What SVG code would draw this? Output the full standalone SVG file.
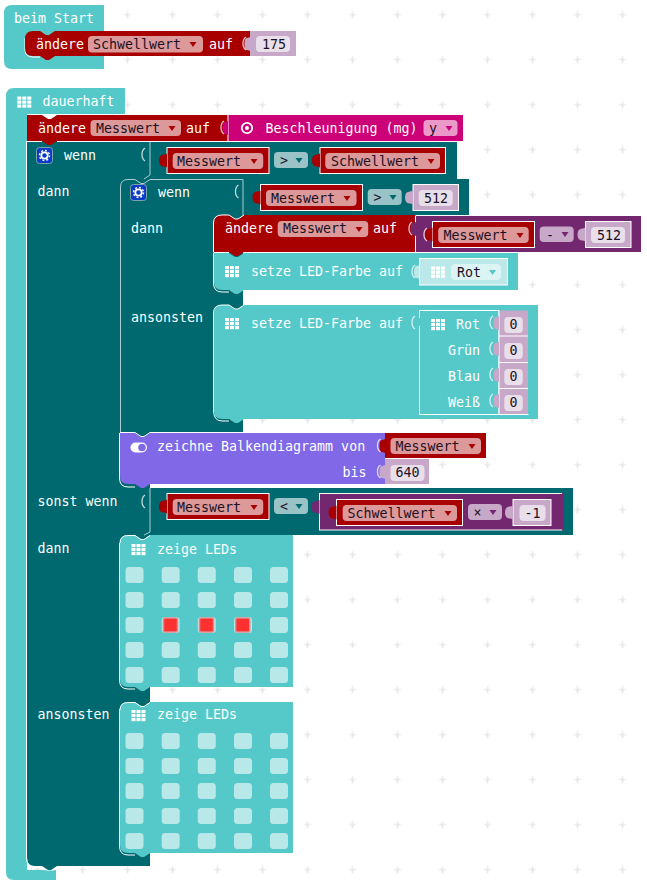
<svg xmlns="http://www.w3.org/2000/svg" width="647" height="886" viewBox="0 0 647 886">
<style>
text{font-family:"DejaVu Sans Mono","Liberation Mono",monospace;font-size:13.3px;fill:#fff}
text.d{fill:#1c1024}
.teal{fill:#55c9c9}.dark{fill:#006970}.red{fill:#a80000}.pink{fill:#cc0077}.pur{fill:#72276f}.vio{fill:#8068e6}.lav{fill:#c8a8c8}
.rp{fill:#dd9999}.vp{fill:#e9dfeb}.op{fill:#99c3c6}.pp{fill:#c8a8c8}
.edge{fill:none;stroke:#fff;stroke-width:1}.soft{fill:none;stroke:#a9cdd0;stroke-width:1}
.led{fill:#b8e8e8}.on{fill:#ff3030;stroke:#e08a8a;stroke-width:1.5}
.sock{fill:none;stroke:#fff;stroke-width:1.3;opacity:.75}
.ic{fill:#fff}
</style>
<defs>
<pattern id="grid" x="82.500" y="14.500" width="45" height="45" patternUnits="userSpaceOnUse">
<path d="M0 0H3.500M0 -3.500V3.500M41.500 0H45M45 -3.500V3.500M0 45H3.500M0 41.500V45M41.500 45H45M45 41.500V45M0 0V3.500M45 0V3.500" stroke="#e0e0e0" fill="none"/>
</pattern>
<path id="tab" d="M0 0q-2 1-3 1q-5 0-5 6q0 6 5 6q1 0 3 1z"/>
<path id="stub" d="M0 0q-2 1-3 1q-2.500 0-2.500 6q0 6 2.500 6q1 0 3 1z"/>
<path id="cres" d="M0 0q-3 2-3 6.500t3 6.500"/>
<path id="arrow" d="M-3.500 -2H3.500L0 3z"/>
<g id="grid5"><rect x="0" y="0" width="4" height="3.200"/><rect x="5" y="0" width="4" height="3.200"/><rect x="10" y="0" width="4" height="3.200"/><rect x="0" y="4" width="4" height="3.200"/><rect x="5" y="4" width="4" height="3.200"/><rect x="10" y="4" width="4" height="3.200"/><rect x="0" y="8" width="4" height="3.200"/><rect x="5" y="8" width="4" height="3.200"/><rect x="10" y="8" width="4" height="3.200"/></g>
<g id="gear"><rect x="0.500" y="0.500" width="16" height="16" rx="3" fill="#0a3cc8" stroke="#7fa5aa"/><circle cx="8.500" cy="8.500" r="3.200" fill="none" stroke="#fff" stroke-width="1.800"/><circle cx="8.500" cy="8.500" r="5" fill="none" stroke="#fff" stroke-width="1.500" stroke-dasharray="1.900 2"/></g>
<g id="ledrow"><rect class="led" x="125.500" width="18" height="16" rx="3.500"/><rect class="led" x="161.700" width="18" height="16" rx="3.500"/><rect class="led" x="197.800" width="18" height="16" rx="3.500"/><rect class="led" x="234" width="18" height="16" rx="3.500"/><rect class="led" x="270" width="18" height="16" rx="3.500"/></g>
</defs>
<rect width="647" height="886" fill="#fff"/>
<rect width="647" height="886" fill="url(#grid)"/>

<g id="connectors"></g>

<g id="beim-start">
<path class="teal" d="M12 5H104V69H12Q4 69 4 61V13Q4 5 12 5Z"/>
<text x="14" y="23">beim Start</text>
</g>
<g id="set-schwellwert">
<path class="edge" d="M25 38V50Q25 57 33 57H40"/>
<path class="red" d="M33 31H40l6 4h3l6-4H250V56H55l-6 4h-3l-6-4H33Q25 56 25 48V39Q25 31 33 31Z"/>
<text x="36" y="49">ändere</text>
<rect class="rp" x="88" y="36" width="115" height="16.500" rx="4"/>
<text class="d" x="93" y="49">Schwellwert</text>
<use href="#arrow" x="193" y="44" class="red"/>
<text x="209" y="49">auf</text>
</g>
<g id="val-175">
<rect class="lav" x="250" y="31" width="46" height="25"/>
<use href="#stub" x="250" y="37" class="lav"/><use href="#cres" x="246" y="37" class="sock"/>
<rect class="vp" x="256" y="36" width="34" height="16" rx="4"/>
<text class="d" x="262" y="49">175</text>
</g>

<g id="dauerhaft">
<path class="teal" d="M14 88H125V114H27V870H56V880H14Q6 880 6 872V96Q6 88 14 88Z"/>
<use href="#grid5" x="17.300" y="96.500" class="ic"/>
<text x="42.500" y="106">dauerhaft</text>
</g>

<g id="wenn-aussen">
<path class="dark" d="M27 141H457V179H150V488H573V535H150V866H35Q27 866 27 858Z"/>
<path class="edge" d="M26.500 141V858Q26.500 867 35 867H42l4 3h8"/>
<path class="dark" d="M42 866H57l-6 4h-3z"/>
<use href="#gear" x="36" y="147"/>
<text x="64" y="160">wenn</text>
<text x="37.500" y="196">dann</text>
<text x="37.500" y="506">sonst wenn</text>
<text x="37.500" y="553">dann</text>
<text x="37.500" y="719">ansonsten</text>
<use href="#cres" x="145" y="148" class="sock"/>
<path class="soft" d="M150 142V175l-6 4"/>
<use href="#cres" x="145" y="495" class="sock"/>
<path class="soft" d="M150 488V532l-6 3"/>
</g>

<g id="set-messwert">
<path class="red" d="M27 115H42l6 4h3l6-4H228V141H57l-6 4h-3l-6-4H27Z"/>
<path class="edge" d="M27 141.500H42M57 141.500H228M228 115V141.500"/>
<text x="38" y="133">ändere</text>
<rect class="rp" x="90.500" y="120" width="90.500" height="16" rx="4"/>
<text class="d" x="96" y="133">Messwert</text>
<use href="#arrow" x="172" y="128" class="red"/>
<text x="186" y="133">auf</text>
</g>
<g id="beschleunigung">
<rect class="pink" x="228.500" y="115" width="234.500" height="26"/>
<path class="edge" d="M228 141.500H457"/>
<use href="#stub" x="228" y="121" class="pink"/><use href="#cres" x="224" y="121" class="sock"/>
<circle cx="247" cy="128" r="5.200" fill="none" stroke="#fff" stroke-width="1.800"/><circle cx="247" cy="128" r="2" fill="#fff"/>
<text x="265.500" y="133">Beschleunigung (mg)</text>
<rect x="423.500" y="120" width="34" height="16" rx="4" fill="#eb99c9"/>
<text class="d" x="429" y="133">y</text>
<use href="#arrow" x="449" y="128" class="pink"/>
</g>

<g id="cond-1-messwert">
<rect class="red" x="167" y="147.500" width="102" height="26" stroke="#fff"/>
<use href="#tab" x="167" y="153.500" class="red"/>
<rect class="rp" x="172.700" y="153" width="90.500" height="16" rx="4"/>
<text class="d" x="177" y="166">Messwert</text>
<use href="#arrow" x="254" y="161" class="red"/>
</g>
<g id="cond-1-op">
<rect class="op" x="274" y="152" width="34" height="16" rx="4"/>
<text class="d" x="280" y="165">&gt;</text>
<use href="#arrow" x="299" y="160" class="dark"/>
</g>
<g id="cond-1-schwellwert">
<rect class="red" x="320" y="147.500" width="125.500" height="26" stroke="#fff"/>
<use href="#tab" x="320" y="153.500" class="red"/>
<rect class="rp" x="325.300" y="153" width="114.700" height="16" rx="4"/>
<text class="d" x="331" y="166">Schwellwert</text>
<use href="#arrow" x="431" y="161" class="red"/>
</g>

<g id="wenn-innen">
<path class="dark" d="M124 179H135l6 4h3l6-4H469V215H243V433H120V183Q120 179 124 179Z"/>
<path class="soft" d="M120.500 432V187Q120.500 179.500 128 179.500H135l6 4h3l6-4H243V215"/>
<use href="#gear" x="130" y="184"/>
<text x="158" y="197">wenn</text>
<text x="131" y="233">dann</text>
<text x="131" y="322">ansonsten</text>
<use href="#cres" x="238.500" y="185" class="sock"/>
</g>
<g id="cond-2-messwert">
<rect class="red" x="260.500" y="184.500" width="102" height="26" stroke="#fff"/>
<use href="#tab" x="260.500" y="190.500" class="red"/>
<rect class="rp" x="266" y="190" width="90.500" height="16" rx="4"/>
<text class="d" x="271" y="203">Messwert</text>
<use href="#arrow" x="347" y="198" class="red"/>
</g>
<g id="cond-2-op">
<rect class="op" x="367.700" y="189" width="34" height="16" rx="4"/>
<text class="d" x="373.500" y="202">&gt;</text>
<use href="#arrow" x="393" y="197" class="dark"/>
</g>
<g id="cond-2-val">
<rect class="lav" x="413" y="184.500" width="45.500" height="26" stroke="#fff"/>
<use href="#tab" x="413" y="190.500" class="lav"/>
<rect class="vp" x="418.700" y="190" width="34" height="16" rx="4"/>
<text class="d" x="424" y="203">512</text>
</g>

<g id="led-farbe-1">
<path class="edge" d="M213.500 253V283Q213.500 292 222 292H229"/>
<path class="teal" d="M214 253H229l6 4h3l6-4H518V290H244l-6 4h-3l-6-4H222Q214 290 214 282Z"/>
<use href="#grid5" x="225" y="266" class="ic"/>
<text x="251" y="276">setze LED-Farbe auf</text>
<use href="#cres" x="415" y="265" class="sock"/>
</g>
<g id="set-messwert-2">
<path class="red" d="M222 215H229l6 4h3l6-4H415.500V252H244l-6 4h-3l-6-4H214V223Q214 215 222 215Z"/>
<path class="edge" d="M213.500 252.500V223Q213.500 215 222 215H229l6 4h3l6-4M214 252.500H229M244 252.500H416M415.500 216V252"/>
<text x="225" y="233">ändere</text>
<rect class="rp" x="277.700" y="221" width="90.500" height="16" rx="4"/>
<text class="d" x="283" y="233">Messwert</text>
<use href="#arrow" x="359" y="229" class="red"/>
<text x="373" y="233">auf</text>
</g>
<g id="minus">
<rect class="pur" x="416" y="216" width="225" height="36"/>
<use href="#stub" x="416" y="222" class="pur"/><use href="#cres" x="412" y="222" class="sock"/>
<rect class="red" x="432.500" y="221.500" width="102" height="26" stroke="#fff"/>
<use href="#tab" x="432.500" y="227.500" class="red"/><use href="#cres" x="427" y="228" class="sock"/>
<rect class="rp" x="438.200" y="227" width="90.500" height="16" rx="4"/>
<text class="d" x="443.500" y="240">Messwert</text>
<use href="#arrow" x="520" y="235" class="red"/>
<rect class="pp" x="539.700" y="226.500" width="34" height="15.500" rx="4"/>
<text class="d" x="546" y="240">-</text>
<use href="#arrow" x="565" y="234" class="pur"/>
<rect class="lav" x="585.500" y="221.500" width="45.500" height="26" stroke="#fff"/>
<use href="#tab" x="585.500" y="227.500" class="lav"/>
<rect class="vp" x="591" y="227" width="34" height="16" rx="4"/>
<text class="d" x="597" y="240">512</text>
</g>
<g id="rot-1">
<rect x="419.500" y="258.500" width="88" height="26.500" fill="#bbe9e9" stroke="#fff"/>
<use href="#stub" x="419.500" y="265" fill="#bbe9e9"/>
<use href="#grid5" x="431" y="266.500" class="ic"/>
<rect x="451" y="264" width="50" height="16" rx="4" fill="#ddf4f4"/>
<text class="d" x="457" y="277">Rot</text>
<use href="#arrow" x="492.500" y="272" class="teal"/>
</g>

<g id="led-farbe-2">
<path class="edge" d="M213.500 410Q213.500 421 222 421H229"/>
<path class="teal" d="M222 305H229l6 4h3l6-4H538V419H244l-6 4h-3l-6-4H222Q214 419 214 411V313Q214 305 222 305Z"/>
<path class="edge" d="M213.500 411V313Q213.500 305 222 305H229l6 4h3l6-4"/>
<use href="#grid5" x="225" y="318" class="ic"/>
<text x="251" y="328">setze LED-Farbe auf</text>
<use href="#cres" x="415" y="316" class="sock"/>
</g>
<g id="rgbw">
<path class="edge" d="M419.500 318V310.500H499V414.500H419.500V326"/>
<use href="#grid5" x="431" y="319" class="ic"/>
<text x="480" y="329" text-anchor="end">Rot</text>
<text x="480" y="355" text-anchor="end">Grün</text>
<text x="480" y="381" text-anchor="end">Blau</text>
<text x="480" y="407" text-anchor="end">Weiß</text>
<rect class="lav" x="499" y="310.500" width="29" height="104"/>
<path class="edge" d="M499 336H528M499 362.500H528M499 388.500H528M499 310.500V414.500H528.500"/>
<use href="#stub" x="499" y="316" class="lav"/><use href="#cres" x="493" y="316" class="sock"/>
<use href="#stub" x="499" y="342" class="lav"/><use href="#cres" x="493" y="342" class="sock"/>
<use href="#stub" x="499" y="368" class="lav"/><use href="#cres" x="493" y="368" class="sock"/>
<use href="#stub" x="499" y="394" class="lav"/><use href="#cres" x="493" y="394" class="sock"/>
<rect class="vp" x="504.300" y="317" width="18.500" height="16" rx="4"/><text class="d" x="509.500" y="329">0</text>
<rect class="vp" x="504.300" y="343" width="18.500" height="16" rx="4"/><text class="d" x="509.500" y="355">0</text>
<rect class="vp" x="504.300" y="369" width="18.500" height="16" rx="4"/><text class="d" x="509.500" y="381">0</text>
<rect class="vp" x="504.300" y="395" width="18.500" height="16" rx="4"/><text class="d" x="509.500" y="407">0</text>
</g>

<g id="balkendiagramm">
<path class="edge" d="M119.500 433V478Q119.500 487 128 487H135"/>
<path class="vio" d="M120 433H135l6 4h3l6-4H385V484H150l-6 4h-3l-6-4H128Q120 484 120 476Z"/>
<path class="edge" d="M120 432.500H135l6 4h3l6-4H243"/>
<rect x="130.500" y="442.500" width="16.500" height="10" rx="5" fill="#fff"/><circle cx="142" cy="447.500" r="3.800" fill="#8068e6"/>
<text x="157" y="451">zeichne Balkendiagramm von</text>
<text x="342.500" y="477">bis</text>
</g>
<g id="balken-messwert">
<rect class="red" x="385" y="433" width="101" height="25"/>
<use href="#stub" x="385" y="439" class="red"/><use href="#cres" x="380.500" y="439" class="sock"/>
<rect class="rp" x="390.500" y="438" width="90.500" height="16" rx="4"/>
<text class="d" x="395.500" y="451">Messwert</text>
<use href="#arrow" x="472" y="446" class="red"/>
</g>
<g id="balken-640">
<rect class="lav" x="385" y="459" width="44" height="25"/>
<use href="#stub" x="385" y="465" class="lav"/><use href="#cres" x="380.500" y="465" class="sock"/>
<rect class="vp" x="390.500" y="465" width="34" height="16" rx="4"/>
<text class="d" x="395.500" y="477">640</text>
</g>

<g id="cond-3-messwert">
<rect class="red" x="167" y="493.500" width="102" height="26" stroke="#fff"/>
<use href="#tab" x="167" y="499.500" class="red"/>
<rect class="rp" x="172.700" y="499" width="90.500" height="16" rx="4"/>
<text class="d" x="177" y="512">Messwert</text>
<use href="#arrow" x="254" y="507" class="red"/>
</g>
<g id="cond-3-op">
<rect class="op" x="274" y="498" width="34" height="16" rx="4"/>
<text class="d" x="280" y="511">&lt;</text>
<use href="#arrow" x="299" y="506" class="dark"/>
</g>
<g id="times">
<rect class="pur" x="319.500" y="493.500" width="243" height="36.500" stroke="#fff"/>
<use href="#tab" x="319.500" y="500" class="pur"/>
<path d="M562.500 493V530.500" stroke="#72276f" fill="none"/>
<rect class="red" x="336.500" y="499.500" width="126" height="26" stroke="#fff"/>
<use href="#tab" x="336.500" y="505.500" class="red"/>
<rect class="rp" x="342.700" y="505" width="114.300" height="16" rx="4"/>
<text class="d" x="347.500" y="518">Schwellwert</text>
<use href="#arrow" x="448" y="513" class="red"/>
<rect class="pp" x="468" y="504" width="34" height="16" rx="4"/>
<text class="d" x="473.500" y="517">×</text>
<use href="#arrow" x="493" y="512" class="pur"/>
<rect class="lav" x="513" y="499.500" width="38" height="26" stroke="#fff"/>
<use href="#tab" x="513" y="505.500" class="lav"/>
<rect class="vp" x="519.500" y="505" width="26" height="16" rx="4"/>
<text class="d" x="524.500" y="518">-1</text>
</g>

<g id="leds-1">
<path class="edge" d="M119.500 543V680Q119.500 689 128 689H135"/>
<path class="teal" d="M128 535H135l6 4h3l6-4H293V687H150l-6 4h-3l-6-4H128Q120 687 120 679V543Q120 535 128 535Z"/>
<path class="edge" d="M120 543Q120 535.500 128 535.500H135l6 4h3l6-4"/>
<use href="#grid5" x="131.500" y="544" class="ic"/>
<text x="157" y="554">zeige LEDs</text>
<use href="#ledrow" y="567"/><use href="#ledrow" y="592"/><use href="#ledrow" y="617"/><use href="#ledrow" y="642"/><use href="#ledrow" y="667"/>
<rect class="on" x="163.500" y="618" width="14" height="14" rx="1.500"/>
<rect class="on" x="199.500" y="618" width="14" height="14" rx="1.500"/>
<rect class="on" x="235.700" y="618" width="14" height="14" rx="1.500"/>
</g>

<g id="leds-2">
<path class="edge" d="M119.500 709V846Q119.500 855 128 855H135"/>
<path class="teal" d="M128 702H135l6 4h3l6-4H293V853H150l-6 4h-3l-6-4H128Q120 853 120 845V710Q120 702 128 702Z"/>
<path class="edge" d="M120 710Q120 702.500 128 702.500H135l6 4h3l6-4"/>
<use href="#grid5" x="131.500" y="710" class="ic"/>
<text x="157" y="719">zeige LEDs</text>
<use href="#ledrow" y="733"/><use href="#ledrow" y="758"/><use href="#ledrow" y="783"/><use href="#ledrow" y="808"/><use href="#ledrow" y="833"/>
</g>
</svg>
